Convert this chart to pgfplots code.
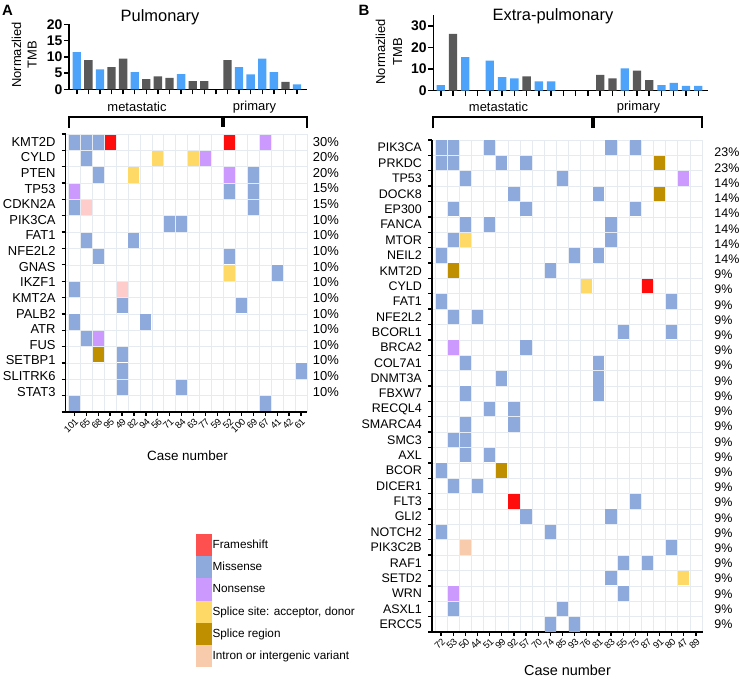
\documentclass[border=0pt]{standalone}
\usepackage{pgfplots}
\pgfplotsset{compat=1.18}
\usepackage{fontspec}
\setmainfont{Liberation Sans}
\newcommand\fs[1]{\fontsize{#1}{#1}\selectfont}
\definecolor{mis}{RGB}{142,169,219}
\definecolor{fra}{RGB}{255,12,12}
\definecolor{fraleg}{RGB}{255,80,80}
\definecolor{non}{RGB}{204,153,255}
\definecolor{ssite}{RGB}{255,217,102}
\definecolor{sreg}{RGB}{191,143,0}
\definecolor{intr}{RGB}{248,203,173}
\definecolor{pinkL}{RGB}{255,204,204}
\definecolor{tmbblue}{RGB}{77,163,250}
\definecolor{tmbgray}{RGB}{89,89,89}
\definecolor{gridc}{RGB}{230,235,242}
\pgfdeclareplotmark{cellL}{\pgfpathrectangle{\pgfpoint{-5.5bp}{-7.65bp}}{\pgfpoint{11bp}{15.3bp}}\pgfusepathqfill}
\pgfdeclareplotmark{cellR}{\pgfpathrectangle{\pgfpoint{-5.6bp}{-7.2bp}}{\pgfpoint{11.2bp}{14.4bp}}\pgfusepathqfill}
\tikzset{pct/.style={anchor=west, inner sep=0pt, font=\fs{12.5}}, pctL/.style={anchor=west, inner sep=0pt, font=\fs{13}}}
\pgfplotsset{
 tmb/.style={scale only axis, ybar, ymin=0, axis x line*=bottom, axis y line*=left,
   axis line style={line width=1.5bp}, every tick/.style={black, line width=1.5bp},
   tick align=outside, major tick length=5bp, xticklabels={},
   yticklabel style={font=\fs{14}\bfseries, inner sep=1.5bp},
   /pgf/number format/assume math mode=true, clip=false},
 heat/.style={scale only axis, axis x line*=bottom, axis y line*=left,
   axis line style={line width=1.5bp}, every tick/.style={black, line width=1.3bp},
   tick align=outside, major tick length=4bp, minor tick length=4bp,
   minor x tick style={draw=none}, major y tick style={draw=none},
   xminorgrids, yminorgrids, minor grid style={draw=gridc, line width=0.6bp},
   clip=false, xticklabel style={rotate=45, anchor=north east, inner sep=1bp, font=\fs{9.5}},
   yticklabel style={font=\fs{12.5}, inner sep=0pt, xshift=-6bp}},
 leg/.style={legend image code/.code={\fill[#1] (0bp,-10.85bp) rectangle (14.7bp,10.85bp);}}
}
\begin{document}
\begin{tikzpicture}
\path[use as bounding box] (0,0) rectangle (740bp,679bp);

% ---------- Left TMB ----------
\begin{axis}[tmb, at={(69bp,589.7bp)}, anchor=south west, width=238bp, height=65bp,
  xmin=-0.67, xmax=19.86, ymax=20, ytick={0,5,10,15,20}, xtick={0,...,19}, bar width=0.72]
\addplot[fill=tmbblue, draw=none, bar shift=0pt] coordinates {(0,11.4) (2,6.15) (5,5.3) (9,4.7) (14,6.8) (15,4.6) (16,9.4) (17,5.3) (19,1.5)};
\addplot[fill=tmbgray, draw=none, bar shift=0pt] coordinates {(1,9.0) (3,6.8) (4,9.4) (6,3.1) (7,4.0) (8,3.5) (10,2.5) (11,2.5) (13,9.0) (18,2.3)};
\end{axis}

% ---------- Right TMB ----------
\begin{axis}[tmb, at={(433.3bp,588.3bp)}, anchor=south west, width=275bp, height=75.5bp,
  xmin=-0.61, xmax=21.82, ymax=35, ytick={0,10,20,30}, xtick={0,...,21}, bar width=0.68]
\addplot[fill=tmbblue, draw=none, bar shift=0pt] coordinates {(0,2.6) (2,15.6) (4,13.9) (5,6.3) (6,5.7) (8,4.3) (9,4.3) (15,10.4) (18,2.6) (19,3.6) (20,2.2) (21,2.2)};
\addplot[fill=tmbgray, draw=none, bar shift=0pt] coordinates {(1,26.3) (7,6.6) (13,7.3) (14,5.7) (16,9.3) (17,4.9)};
\end{axis}

% ---------- Left heatmap ----------
\begin{axis}[heat, at={(65.7bp,267bp)}, anchor=south west, width=241.3bp, height=278bp,
  xmin=-0.72, xmax=19.5, ymin=-16.5, ymax=0.5,
  yticklabel style={font=\fs{13}},
  xtick={0,...,19}, xticklabels={101,65,68,95,49,82,94,56,71,84,63,77,59,52,100,69,67,41,42,61},
  minor xtick={-0.5,0.5,...,19.5}, minor ytick={-16.5,-15.5,...,0.5},
  ytick={0.03,-0.926,-1.881,-2.837,-3.793,-4.749,-5.704,-6.660,-7.616,-8.571,-9.527,-10.483,-11.438,-12.394,-13.350,-14.306,-15.261},
  yticklabels={KMT2D,CYLD,PTEN,TP53,CDKN2A,PIK3CA,FAT1,NFE2L2,GNAS,IKZF1,KMT2A,PALB2,ATR,FUS,SETBP1,SLITRK6,STAT3}]
\addplot[only marks, mark=cellL, color=mis] coordinates {
 (0,0) (1,0) (2,0) (1,-1) (2,-2) (15,-2) (13,-3) (15,-3) (0,-4) (15,-4)
 (8,-5) (9,-5) (1,-6) (5,-6) (2,-7) (13,-7) (17,-8) (0,-9) (4,-10) (14,-10)
 (0,-11) (6,-11) (1,-12) (4,-13) (4,-14) (19,-14) (4,-15) (9,-15) (0,-16) (16,-16)};
\addplot[only marks, mark=cellL, color=fra] coordinates {(3,0) (13,0)};
\addplot[only marks, mark=cellL, color=non] coordinates {(16,0) (11,-1) (13,-2) (0,-3) (2,-12)};
\addplot[only marks, mark=cellL, color=ssite] coordinates {(7,-1) (10,-1) (5,-2) (13,-8)};
\addplot[only marks, mark=cellL, color=sreg] coordinates {(2,-13)};
\addplot[only marks, mark=cellL, color=pinkL] coordinates {(1,-4) (4,-9)};
\node[pctL] at (axis cs:19.98,0.03) {30\%};
\node[pctL] at (axis cs:19.98,-0.926) {20\%};
\node[pctL] at (axis cs:19.98,-1.881) {20\%};
\node[pctL] at (axis cs:19.98,-2.837) {15\%};
\node[pctL] at (axis cs:19.98,-3.793) {15\%};
\node[pctL] at (axis cs:19.98,-4.749) {10\%};
\node[pctL] at (axis cs:19.98,-5.704) {10\%};
\node[pctL] at (axis cs:19.98,-6.660) {10\%};
\node[pctL] at (axis cs:19.98,-7.616) {10\%};
\node[pctL] at (axis cs:19.98,-8.571) {10\%};
\node[pctL] at (axis cs:19.98,-9.527) {10\%};
\node[pctL] at (axis cs:19.98,-10.483) {10\%};
\node[pctL] at (axis cs:19.98,-11.438) {10\%};
\node[pctL] at (axis cs:19.98,-12.394) {10\%};
\node[pctL] at (axis cs:19.98,-13.350) {10\%};
\node[pctL] at (axis cs:19.98,-14.306) {10\%};
\node[pctL] at (axis cs:19.98,-15.261) {10\%};
\end{axis}

% ---------- Right heatmap ----------
\begin{axis}[heat, at={(432bp,47bp)}, anchor=south west, width=271bp, height=492bp,
  xmin=-0.75, xmax=21.58, ymin=-31.5, ymax=0.5,
  xtick={0,...,21}, xticklabels={72,53,50,44,51,99,92,57,70,74,85,93,76,81,83,55,75,87,91,80,47,89},
  minor xtick={-0.5,0.5,...,21.5}, minor ytick={-31.5,-30.5,...,0.5},
  ytick={0,-1,...,-31},
  yticklabels={PIK3CA,PRKDC,TP53,DOCK8,EP300,FANCA,MTOR,NEIL2,KMT2D,CYLD,FAT1,NFE2L2,BCORL1,BRCA2,COL7A1,DNMT3A,FBXW7,RECQL4,SMARCA4,SMC3,AXL,BCOR,DICER1,FLT3,GLI2,NOTCH2,PIK3C2B,RAF1,SETD2,WRN,ASXL1,ERCC5},
  legend style={at={(axis description cs:-0.8708,0.1986)}, anchor=north west, draw=none, fill=none,
    inner sep=0pt, outer sep=0pt, row sep=0pt, column sep=1.5bp, font=\fs{11.8}, nodes={inner sep=0pt}},
  legend cell align=left]
\addplot[only marks, mark=cellR, color=fra, leg=fraleg] coordinates {(17,-9) (6,-23)};
\addlegendentry{Frameshift}
\addplot[only marks, mark=cellR, color=mis, leg=mis] coordinates {
 (0,0) (1,0) (4,0) (14,0) (16,0)
 (0,-1) (1,-1) (5,-1) (7,-1)
 (2,-2) (10,-2)
 (6,-3) (13,-3)
 (1,-4) (7,-4) (16,-4)
 (2,-5) (4,-5) (14,-5)
 (1,-6) (14,-6)
 (0,-7) (11,-7) (13,-7)
 (9,-8)
 (0,-10) (19,-10)
 (1,-11) (3,-11)
 (15,-12) (19,-12)
 (7,-13)
 (2,-14) (13,-14)
 (5,-15) (13,-15)
 (2,-16) (13,-16)
 (4,-17) (6,-17)
 (2,-18) (6,-18)
 (1,-19) (2,-19)
 (2,-20) (4,-20)
 (0,-21)
 (1,-22) (3,-22)
 (16,-23)
 (7,-24) (14,-24)
 (0,-25) (9,-25)
 (19,-26)
 (15,-27) (17,-27)
 (14,-28)
 (15,-29)
 (1,-30) (10,-30)
 (9,-31) (11,-31)};
\addlegendentry{Missense}
\addplot[only marks, mark=cellR, color=non, leg=non] coordinates {(20,-2) (1,-13) (1,-29)};
\addlegendentry{Nonsense}
\addplot[only marks, mark=cellR, color=ssite, leg=ssite] coordinates {(2,-6) (12,-9) (20,-28)};
\addlegendentry{Splice site: acceptor, donor}
\addplot[only marks, mark=cellR, color=sreg, leg=sreg] coordinates {(18,-1) (18,-3) (1,-8) (5,-21)};
\addlegendentry{Splice region}
\addplot[only marks, mark=cellR, color=intr, leg=intr] coordinates {(2,-26)};
\addlegendentry{Intron or intergenic variant}
\node[pct] at (axis cs:22.51,-0.325) {23\%};
\node[pct] at (axis cs:22.51,-1.315) {23\%};
\node[pct] at (axis cs:22.51,-2.304) {14\%};
\node[pct] at (axis cs:22.51,-3.294) {14\%};
\node[pct] at (axis cs:22.51,-4.283) {14\%};
\node[pct] at (axis cs:22.51,-5.273) {14\%};
\node[pct] at (axis cs:22.51,-6.263) {14\%};
\node[pct] at (axis cs:22.51,-7.252) {14\%};
\node[pct] at (axis cs:22.51,-8.242) {9\%};
\node[pct] at (axis cs:22.51,-9.231) {9\%};
\node[pct] at (axis cs:22.51,-10.221) {9\%};
\node[pct] at (axis cs:22.51,-11.211) {9\%};
\node[pct] at (axis cs:22.51,-12.200) {9\%};
\node[pct] at (axis cs:22.51,-13.190) {9\%};
\node[pct] at (axis cs:22.51,-14.179) {9\%};
\node[pct] at (axis cs:22.51,-15.169) {9\%};
\node[pct] at (axis cs:22.51,-16.159) {9\%};
\node[pct] at (axis cs:22.51,-17.148) {9\%};
\node[pct] at (axis cs:22.51,-18.138) {9\%};
\node[pct] at (axis cs:22.51,-19.127) {9\%};
\node[pct] at (axis cs:22.51,-20.117) {9\%};
\node[pct] at (axis cs:22.51,-21.107) {9\%};
\node[pct] at (axis cs:22.51,-22.096) {9\%};
\node[pct] at (axis cs:22.51,-23.086) {9\%};
\node[pct] at (axis cs:22.51,-24.075) {9\%};
\node[pct] at (axis cs:22.51,-25.065) {9\%};
\node[pct] at (axis cs:22.51,-26.055) {9\%};
\node[pct] at (axis cs:22.51,-27.044) {9\%};
\node[pct] at (axis cs:22.51,-28.034) {9\%};
\node[pct] at (axis cs:22.51,-29.023) {9\%};
\node[pct] at (axis cs:22.51,-30.013) {9\%};
\node[pct] at (axis cs:22.51,-31.002) {9\%};
\end{axis}

% ---------- Annotations ----------
\node[font=\fs{15}\bfseries] at (7.5bp,669bp) {A};
\node[font=\fs{15}\bfseries] at (364bp,669bp) {B};
\node[font=\fs{16.5}] at (160bp,662bp) {Pulmonary};
\node[font=\fs{16.5}] at (553bp,662.3bp) {Extra-pulmonary};
\node[rotate=90, align=center, font=\fontsize{13}{15.5}\selectfont] at (24.2bp,624bp) {Normazlied\\TMB};
\node[rotate=90, align=center, font=\fontsize{13}{17}\selectfont] at (389bp,627.3bp) {Normazlied\\TMB};
\node[font=\fs{13}] at (137bp,572.3bp) {metastatic};
\node[font=\fs{13}] at (254.5bp,572.3bp) {primary};
\node[font=\fs{13}] at (498.5bp,572.3bp) {metastatic};
\node[font=\fs{13}] at (638.5bp,572.3bp) {primary};
\draw[line width=2.2bp] (69bp,551.3bp) -- (69bp,562.3bp) -- (307.3bp,562.3bp) -- (307.3bp,551.3bp);
\draw[line width=4bp] (223.3bp,562.3bp) -- (223.3bp,552bp);
\draw[line width=2.2bp] (433.3bp,550.7bp) -- (433.3bp,561.7bp) -- (701.7bp,561.7bp) -- (701.7bp,550.7bp);
\draw[line width=4bp] (593.3bp,561.7bp) -- (593.3bp,551.4bp);
\node[font=\fs{13.5}] at (187.5bp,223bp) {Case number};
\node[font=\fs{14.5}] at (567.5bp,9bp) {Case number};
\end{tikzpicture}
\end{document}
